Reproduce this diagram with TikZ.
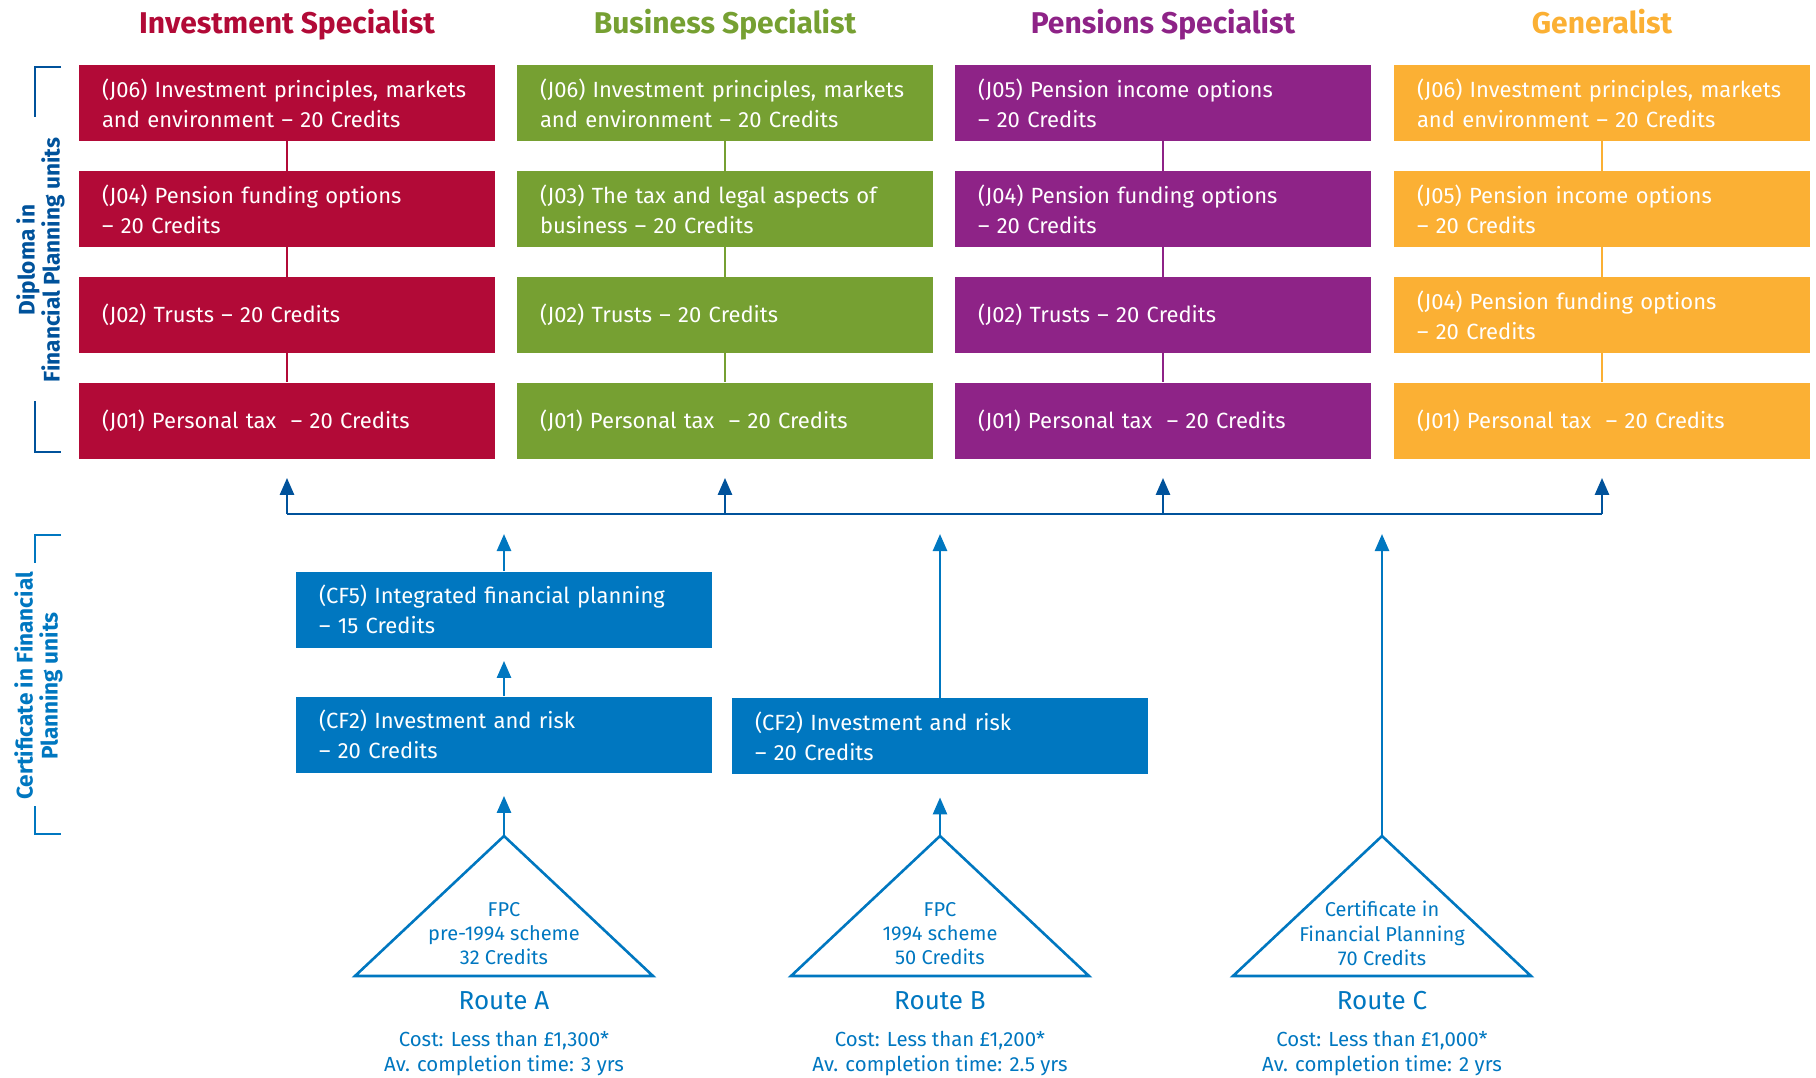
\documentclass[tikz,border=0pt]{standalone}
\usepackage{fontspec}
\setmainfont{Fira Sans}
\usetikzlibrary{arrows.meta,positioning}

\definecolor{invred}{RGB}{178,10,55}
\definecolor{busgreen}{RGB}{118,160,50}
\definecolor{penpurple}{RGB}{142,35,135}
\definecolor{genorange}{RGB}{251,176,52}
\definecolor{cfblue}{RGB}{0,119,192}
\definecolor{dipblue}{RGB}{0,82,155}

\tikzset{
  unitbox/.style={rectangle, fill=#1, text=white, minimum width=208pt, minimum height=38pt,
    text width=185pt, inner xsep=11.5pt, inner ysep=0pt, align=left,
    font=\fontsize{11}{15}\selectfont},
  colhead/.style={text=#1, anchor=base, font=\bfseries\fontsize{15}{17}\selectfont},
  collink/.style={draw=#1, line width=1.2pt},
  bus/.style={draw=dipblue, line width=1.3pt},
  uparrow/.style={-{Triangle[length=8.5pt,width=7pt]}, line width=1.3pt},
  bracket/.style={line width=1.3pt},
  sidelabel/.style={rotate=90, align=center, font=\bfseries\fontsize{11.3}{12.5}\selectfont},
  tri/.style={draw=cfblue, line width=1.3pt},
  tritext/.style={text=cfblue, align=center, font=\fontsize{10}{12.2}\selectfont},
  routename/.style={text=cfblue, font=\fontsize{13}{15}\selectfont},
  routecost/.style={text=cfblue, align=center, font=\fontsize{10.2}{12.2}\selectfont}
}

\begin{document}
\begin{tikzpicture}[x=0.5pt,y=-0.5pt]
\useasboundingbox (0,0) rectangle (1816,1077);

% column headings
\node[colhead=invred] (hi) at (287,33) {Investment Specialist};
\node[colhead=busgreen] (hb) at (725,33) {Business Specialist};
\node[colhead=penpurple] (hp) at (1163,33) {Pensions Specialist};
\node[colhead=genorange] (hg) at (1602,33) {Generalist};

% diploma units
\node[unitbox=invred] (i1) at (287,103) {(J06) Investment principles, markets and environment -- 20 Credits};
\node[unitbox=invred] (i2) at (287,209) {(J04) Pension funding options\\-- 20 Credits};
\node[unitbox=invred] (i3) at (287,315) {(J02) Trusts -- 20 Credits};
\node[unitbox=invred] (i4) at (287,420.5) {(J01) Personal tax\ \ -- 20 Credits};

\node[unitbox=busgreen] (b1) at (725,103) {(J06) Investment principles, markets and environment -- 20 Credits};
\node[unitbox=busgreen] (b2) at (725,209) {(J03) The tax and legal aspects of business -- 20 Credits};
\node[unitbox=busgreen] (b3) at (725,315) {(J02) Trusts -- 20 Credits};
\node[unitbox=busgreen] (b4) at (725,420.5) {(J01) Personal tax\ \ -- 20 Credits};

\node[unitbox=penpurple] (p1) at (1163,103) {(J05) Pension income options\\-- 20 Credits};
\node[unitbox=penpurple] (p2) at (1163,209) {(J04) Pension funding options\\-- 20 Credits};
\node[unitbox=penpurple] (p3) at (1163,315) {(J02) Trusts -- 20 Credits};
\node[unitbox=penpurple] (p4) at (1163,420.5) {(J01) Personal tax\ \ -- 20 Credits};

\node[unitbox=genorange] (g1) at (1602,103) {(J06) Investment principles, markets and environment -- 20 Credits};
\node[unitbox=genorange] (g2) at (1602,209) {(J05) Pension income options\\-- 20 Credits};
\node[unitbox=genorange] (g3) at (1602,315) {(J04) Pension funding options\\-- 20 Credits};
\node[unitbox=genorange] (g4) at (1602,420.5) {(J01) Personal tax\ \ -- 20 Credits};

\foreach \c/\col in {i/invred,b/busgreen,p/penpurple,g/genorange}
  \draw[collink=\col] (\c1) -- (\c2) (\c2) -- (\c3) (\c3) -- (\c4);

% bus to the diploma
\coordinate (bus-i) at (287,514);
\coordinate (bus-b) at (725,514);
\coordinate (bus-p) at (1163,514);
\coordinate (bus-g) at (1602,514);
\coordinate (bus-a) at (504,514);
\coordinate (bus-rb) at (940,514);
\coordinate (bus-rc) at (1382,514);
\draw[bus] (bus-i) -- (bus-g);
\foreach \c in {i,b,p,g}
  \draw[bus, uparrow, shorten >=9.5pt] (bus-\c) -- (\c4);

% certificate units
\node[unitbox=cfblue] (cf5) at (504,609.5) {(CF5) Integrated financial planning\\-- 15 Credits};
\node[unitbox=cfblue] (cf2a) at (504,734.5) {(CF2) Investment and risk\\-- 20 Credits};
\node[unitbox=cfblue] (cf2b) at (940,736) {(CF2) Investment and risk\\-- 20 Credits};

\draw[cfblue, uparrow, shorten >=10pt] (cf5) -- (bus-a);
\draw[cfblue, uparrow, shorten >=6.5pt] (cf2a) -- (cf5);
\draw[cfblue, uparrow, shorten >=10pt] (cf2b) -- (bus-rb);

% routes
\coordinate (apexA) at (504,836);
\coordinate (apexB) at (940,836);
\coordinate (apexC) at (1382,836);
\draw[tri] (apexA) -- ++(149,140) -- ++(-298,0) -- cycle;
\draw[tri] (apexB) -- ++(149,140) -- ++(-298,0) -- cycle;
\draw[tri] (apexC) -- ++(149,140) -- ++(-298,0) -- cycle;

\node[tritext] (fpcA) at (504,933.5) {FPC\\pre-1994 scheme\\32 Credits};
\node[tritext] (fpcB) at (940,933.5) {FPC\\1994 scheme\\50 Credits};
\node[tritext] (cfpC) at (1382,933.5) {Certificate in\\Financial Planning\\70 Credits};

\draw[cfblue, uparrow, shorten >=11.5pt] (apexA) -- (cf2a);
\draw[cfblue, uparrow, shorten >=11.5pt] (apexB) -- (cf2b);
\draw[cfblue, uparrow, shorten >=10pt] (apexC) -- (bus-rc);

\node[routename] (routeA) at (504,1001) {Route A};
\node[routename] (routeB) at (940,1001) {Route B};
\node[routename] (routeC) at (1382,1001) {Route C};

\node[routecost] (costA) at (504,1053.5) {Cost: Less than £1,300*\\Av. completion time: 3 yrs};
\node[routecost] (costB) at (940,1053.5) {Cost: Less than £1,200*\\Av. completion time: 2.5 yrs};
\node[routecost] (costC) at (1382,1053.5) {Cost: Less than £1,000*\\Av. completion time: 2 yrs};

% side labels
\node[sidelabel, text=dipblue] (diplabel) at (40.5,260) {Diploma in\\Financial Planning units};
\draw[bracket, dipblue] (61,67) -- (35,67) -- (35,117);
\draw[bracket, dipblue] (35,401) -- (35,452) -- (61,452);

\node[sidelabel, text=cfblue] (certlabel) at (38.5,686) {Certificate in Financial\\Planning units};
\draw[bracket, cfblue] (61,535) -- (35,535) -- (35,563);
\draw[bracket, cfblue] (35,806) -- (35,834) -- (61,834);

\end{tikzpicture}
\end{document}
